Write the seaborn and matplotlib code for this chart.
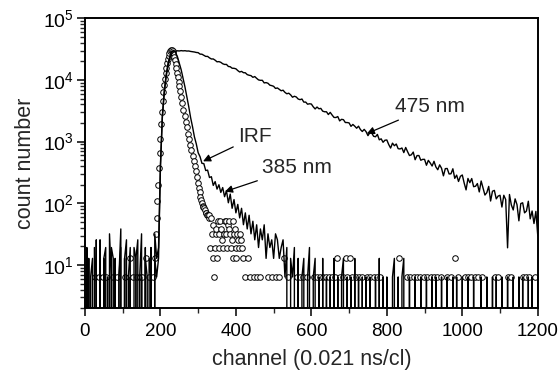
import numpy as np
import pandas as pd
import matplotlib
matplotlib.use("Agg")
import matplotlib.pyplot as plt
import seaborn as sns
from matplotlib.ticker import MultipleLocator, LogLocator, NullFormatter

# channel grid of the two decay traces (every 5th channel)
channels = np.arange(0, 1201, 5)

# 475 nm emission decay, counts
decay_475 = [
    0, 19.2, 0, 6.4, 12.8, 0, 25.6, 0, 6.4, 0,
    12.8, 19.2, 0, 32, 6.4, 0, 12.8, 0, 6.4, 19.2,
    0, 12.8, 25.6, 0, 6.4, 0, 19.2, 12.8, 0, 6.4,
    32, 0, 12.8, 6.4, 0, 19.2, 0, 12.8, 6.4, 12.8,
    380, 2400, 6000, 11000, 17000, 22500, 26500, 28500, 29300, 29700,
    29500, 29900, 29600, 29800, 29400, 29500, 29000, 28700, 28400, 27900,
    27700, 26240, 26150, 25160, 24100, 24100, 22810, 21880, 21900, 20900,
    19680, 19840, 19320, 18320, 17840, 17870, 16550, 16380, 15500, 15450,
    15160, 14190, 13460, 13770, 13120, 13070, 12210, 11920, 11750, 11030,
    11350, 10620, 10020, 9860, 9880, 8950, 9060, 8840, 8230, 8090,
    7890, 7280, 7420, 7050, 6680, 6820, 6290, 5970, 6100, 5740,
    5250, 5440, 5300, 4910, 4790, 4910, 4370, 4380, 4040, 4110,
    4070, 3670, 3390, 3640, 3410, 3460, 3120, 3050, 3050, 2750,
    2980, 2700, 2470, 2460, 2550, 2170, 2300, 2270, 2040, 2040,
    2010, 1770, 1900, 1780, 1650, 1780, 1570, 1460, 1580, 1450,
    1250, 1400, 1380, 1220, 1200, 1310, 1070, 1110, 976, 1054,
    1063, 898, 787, 945, 858, 915, 769, 761, 789, 664,
    804, 687, 595, 611, 677, 509, 594, 595, 499, 516,
    516, 414, 497, 451, 402, 480, 389, 350, 420, 370,
    279, 365, 367, 299, 301, 363, 254, 286, 226, 274,
    288, 213, 165, 253, 216, 252, 186, 189, 209, 153,
    230, 176, 136, 149, 188, 109, 157, 162, 118, 131,
    135, 87, 135, 115, 19, 139, 94, 78, 118, 95,
    52, 99, 102, 70, 75, 108, 56, 75, 47, 74,
    30,
]

# 385 nm emission decay, counts
decay_385 = [
    6.4, 0, 12.8, 0, 0, 19.2, 6.4, 0, 25.6, 0,
    12.8, 0, 6.4, 0, 19.2, 12.8, 0, 0, 6.4, 38.4,
    0, 12.8, 0, 6.4, 19.2, 0, 0, 12.8, 25.6, 0,
    6.4, 0, 19.2, 0, 12.8, 6.4, 0, 32, 12.8, 19.2,
    420, 2600, 6500, 12000, 18500, 24500, 28500, 30000, 27800, 23900,
    18800, 14600, 10600, 7700, 5300, 3700, 2450, 1750, 1200, 920,
    660, 570, 445, 440, 340, 345, 262, 270, 195, 225,
    170, 200, 150, 180, 128, 160, 102, 141, 83, 115,
    70, 96, 58, 83, 45, 70, 38.4, 64, 32, 51.2,
    25.6, 44.8, 19.2, 38.4, 25.6, 44.8, 12.8, 32, 19.2, 25.6,
    12.8, 32, 25.6, 12.8, 19.2, 25.6, 6.4, 19.2, 0, 12.8,
    6.4, 19.2, 0, 12.8, 0, 6.4, 12.8, 0, 6.4, 19.2,
    0, 6.4, 12.8, 0, 6.4, 0, 12.8, 0, 6.4, 0,
    6.4, 0, 12.8, 0, 6.4, 0, 6.4, 12.8, 0, 6.4,
    0, 6.4, 0, 12.8, 0, 6.4, 0, 6.4, 0, 6.4,
    0, 6.4, 0, 0, 6.4, 0, 12.8, 0, 6.4, 0,
    6.4, 0, 0, 6.4, 12.8, 0, 6.4, 0, 6.4, 12.8,
    0, 0, 6.4, 0, 0, 6.4, 0, 0, 6.4, 0,
    0, 6.4, 0, 0, 6.4, 0, 6.4, 0, 0, 6.4,
    0, 0, 6.4, 0, 0, 6.4, 0, 6.4, 0, 0,
    6.4, 0, 0, 6.4, 0, 0, 6.4, 0, 0, 0,
    6.4, 0, 0, 6.4, 0, 0, 6.4, 0, 6.4, 0,
    0, 6.4, 0, 0, 6.4, 0, 0, 6.4, 0, 0,
    6.4, 0, 6.4, 0, 0, 6.4, 0, 6.4, 0, 0,
    6.4,
]

# instrument response function: non-zero channels only
irf_ch = [
    26, 36, 47, 55, 75, 84, 107, 119, 127, 137, 146, 151, 162, 171, 179, 185,
    188, 190, 192, 194, 196, 198, 200, 202, 204, 206, 208, 210, 212, 214, 216,
    218, 220, 222, 224, 226, 228, 230, 232,
    234, 236, 238, 240, 242, 244, 246, 248, 250, 252, 255, 258, 261, 264, 267,
    270, 273, 276, 279, 282, 285, 288, 291, 294, 297, 300, 302, 304, 306, 308,
    310, 312, 314, 316, 318, 320, 322, 324, 326, 328, 330,
    332, 334, 336, 338, 340, 342, 344, 346, 348, 350, 352, 354, 356, 358, 361,
    364, 366, 368, 370, 373, 375, 377, 379, 381, 383, 385, 387, 389, 391, 393,
    395, 397, 399, 401, 403, 406, 408, 410, 413, 416, 419, 423, 432, 438, 447,
    456, 465, 486, 495, 505, 514, 527, 537, 561, 570, 579, 588, 606, 614, 622,
    630, 638, 646, 654, 662, 667, 676, 684, 691, 695, 702, 709, 717, 725, 733,
    748, 756, 765, 774, 781, 832, 853, 862, 871, 880, 889, 898, 907, 916, 925,
    934, 943, 960, 970, 980, 988, 1006, 1015, 1024, 1033, 1042, 1051, 1086,
    1094, 1122, 1130, 1160, 1170, 1178, 1192,
]
irf_val = [
    6.4, 6.4, 6.4, 6.4, 6.4, 6.4, 6.4, 12.8, 6.4, 6.4, 6.4, 6.4, 12.8, 6.4, 6.4, 12.8,
    32, 57.6, 110, 200, 380, 650, 1100, 1900, 3000, 4500, 6300, 8300, 10500, 13000, 15500,
    18500, 21500, 24500, 27000, 29000, 30500, 31000, 30000,
    27000, 24000, 21000, 18000, 15500, 13000, 11000, 9300, 7900, 6700, 5300, 4200, 3300, 2650, 2100,
    1700, 1350, 1100, 880, 720, 590, 480, 400, 330, 270, 215, 175, 150, 128, 112,
    100, 92, 86, 83.2, 76.8, 70.4, 70.4, 64, 64, 57.6, 64,
    19.2, 57.6, 32, 44.8, 12.8, 6.4, 19.2, 32, 38.4, 12.8, 51.2, 19.2, 32, 51.2, 38.4,
    25.6, 19.2, 32, 51.2, 51.2, 32, 19.2, 44.8, 51.2, 38.4, 32, 19.2, 25.6, 51.2, 12.8,
    32, 38.4, 19.2, 12.8, 32, 25.6, 19.2, 32, 25.6, 19.2, 12.8, 6.4, 12.8, 6.4, 6.4,
    6.4, 6.4, 6.4, 6.4, 6.4, 6.4, 12.8, 6.4, 6.4, 6.4, 6.4, 6.4, 6.4, 6.4, 6.4,
    6.4, 6.4, 6.4, 6.4, 6.4, 12.8, 6.4, 6.4, 12.8, 6.4, 12.8, 6.4, 6.4, 6.4, 6.4,
    6.4, 6.4, 6.4, 6.4, 6.4, 12.8, 6.4, 6.4, 6.4, 6.4, 6.4, 6.4, 6.4, 6.4, 6.4,
    6.4, 6.4, 6.4, 6.4, 12.8, 6.4, 6.4, 6.4, 6.4, 6.4, 6.4, 6.4, 6.4,
    6.4, 6.4, 6.4, 6.4, 6.4, 6.4, 6.4,
]

assert len(decay_475) == len(channels) == len(decay_385)
assert len(irf_ch) == len(irf_val)

df = pd.DataFrame({"channel": channels, "nm475": decay_475, "nm385": decay_385})

sns.set_style("ticks")
plt.rcParams["font.family"] = ["Liberation Sans", "DejaVu Sans"]

fig = plt.figure(figsize=(5.59, 3.73), dpi=100)
ax = fig.add_axes([0.152, 0.174, 0.810, 0.777])

sns.scatterplot(x=irf_ch, y=irf_val, ax=ax, marker="o", s=16, color="white",
                edgecolor="black", linewidth=0.7, zorder=2)
sns.lineplot(data=df, x="channel", y="nm475", ax=ax, color="black", lw=1.0,
             estimator=None, sort=False, zorder=3)
sns.lineplot(data=df, x="channel", y="nm385", ax=ax, color="black", lw=1.0,
             estimator=None, sort=False, zorder=3)

ax.set_yscale("log")
ax.set_xlim(0, 1200)
ax.set_ylim(2, 1e5)
ax.xaxis.set_major_locator(MultipleLocator(200))
ax.xaxis.set_minor_locator(MultipleLocator(100))
ax.yaxis.set_major_locator(LogLocator(base=10))
ax.yaxis.set_minor_locator(LogLocator(base=10, subs=np.arange(2, 10)))
ax.yaxis.set_minor_formatter(NullFormatter())

ax.tick_params(which="major", direction="out", length=6, width=1.1, colors="black")
ax.tick_params(axis="x", which="major", labelsize=13.5, pad=5)
ax.tick_params(axis="y", which="major", labelsize=14, pad=2)
ax.tick_params(which="minor", direction="out", length=3.5, width=1.0)
for sp in ax.spines.values():
    sp.set_linewidth(1.4)
    sp.set_color("black")

ax.set_xlabel("channel (0.021 ns/cl)", fontsize=15.5, labelpad=6)
ax.set_ylabel("count number", fontsize=15.5, labelpad=5)

arrow = dict(arrowstyle="-|>", color="black", lw=0.9, mutation_scale=11, shrinkA=1, shrinkB=0)
ax.annotate("IRF", xy=(313, 480), xytext=(405, 1200), fontsize=15,
            va="center", ha="left", arrowprops=arrow)
ax.annotate("385 nm", xy=(371, 155), xytext=(469, 380), fontsize=15,
            va="center", ha="left", arrowprops=arrow)
ax.annotate("475 nm", xy=(747, 1350), xytext=(821, 3670), fontsize=15,
            va="center", ha="left", arrowprops=arrow)

fig.savefig("out.png", dpi=100)
